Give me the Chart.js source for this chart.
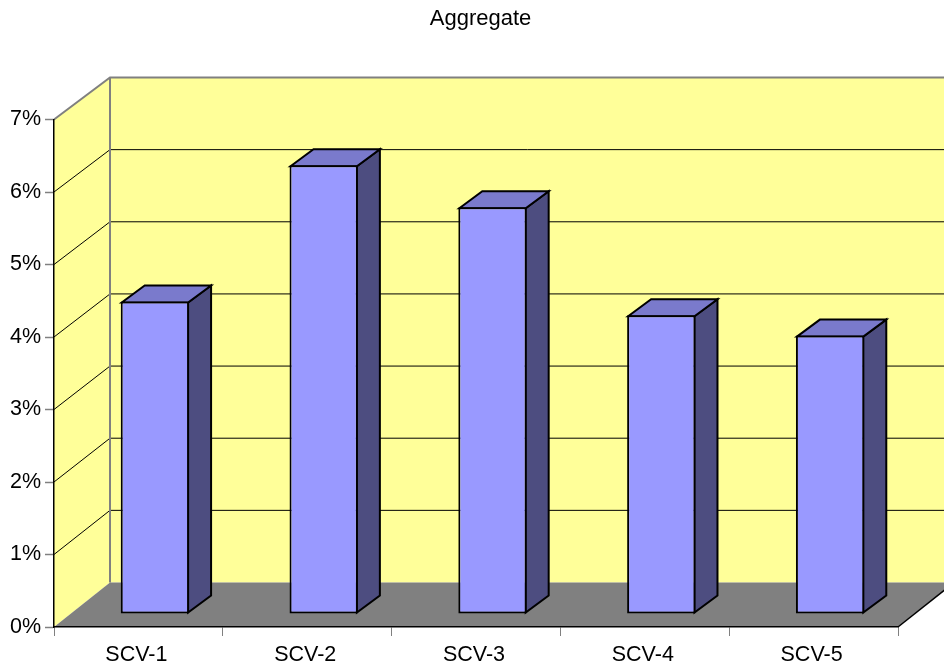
<!DOCTYPE html>
<html>
<head>
<meta charset="utf-8">
<style>
  html, body { margin: 0; padding: 0; background: #fff; }
  #wrap { width: 944px; height: 669px; overflow: hidden; }
</style>
<script src="https://cdn.jsdelivr.net/npm/chart.js@4"></script>
</head>
<body>
<div id="wrap"><canvas id="aggregate" width="944" height="669"></canvas></div>
<script>
const categories = ['SCV-1', 'SCV-2', 'SCV-3', 'SCV-4', 'SCV-5'];
const shares = [4.31, 6.19, 5.61, 4.12, 3.84];
const yTicks = [0, 1, 2, 3, 4, 5, 6, 7];

// 3D box offsets, in px; the back wall is slightly shorter than the front edge
const wallDepth = { x: 56, yFloor: -44.5, yTop: -42 };
const barDepth = { x: 23, y: -17 };
const barShift = { x: 16.5, y: -13 };

const colors = {
  wall: '#FFFF99', floor: '#808080', edge: '#808080', line: '#000000',
  front: '#9999FF', top: '#7A7ACC', side: '#4D4D80'
};

function poly(ctx, pts, fill, stroke, lineWidth) {
  ctx.beginPath();
  pts.forEach((p, i) => (i ? ctx.lineTo(p[0], p[1]) : ctx.moveTo(p[0], p[1])));
  if (fill) {
    ctx.closePath();
    ctx.fillStyle = fill;
    ctx.fill();
  }
  if (stroke) {
    ctx.strokeStyle = stroke;
    ctx.lineWidth = lineWidth;
    ctx.stroke();
  }
}

// walls, floor and the gridlines that fold around the corner
const roomPlugin = {
  id: 'room',
  beforeDraw(chart) {
    const { ctx, chartArea: a, scales: { y } } = chart;
    const dx = wallDepth.x;
    const y0 = y.getPixelForValue(0), yMax = y.getPixelForValue(7);
    const backY = py => py + wallDepth.yFloor + (y0 - py) / (y0 - yMax) * (wallDepth.yTop - wallDepth.yFloor);
    const w = chart.width + 20;
    const backLeft = a.left + dx;

    ctx.save();
    poly(ctx, [[a.left, y0], [backLeft, backY(y0)], [w, backY(y0)], [w, backY(yMax)], [backLeft, backY(yMax)], [a.left, yMax]], colors.wall);
    poly(ctx, [[a.left, y0], [a.right, y0], [a.right + dx, backY(y0)], [backLeft, backY(y0)]], colors.floor);

    yTicks.slice(1, -1).forEach(v => {
      const py = y.getPixelForValue(v);
      poly(ctx, [[a.left, py], [backLeft, backY(py)], [w, backY(py)]], null, colors.line, 1);
    });

    poly(ctx, [[backLeft, backY(y0)], [backLeft, backY(yMax)]], null, colors.edge, 2);
    poly(ctx, [[a.left, yMax], [backLeft, backY(yMax)], [w, backY(yMax)]], null, colors.edge, 2);
    poly(ctx, [[a.right, y0], [a.right + dx, backY(y0)]], null, colors.line, 1.5);
    ctx.restore();
  },
  // bars stand a little way back on the floor, with their top and side faces behind them
  beforeDatasetDraw(chart, args) {
    const { ctx } = chart;
    const dx = barDepth.x, dy = barDepth.y;
    ctx.save();
    ctx.translate(barShift.x, barShift.y);
    args.meta.data.forEach(bar => {
      const l = bar.x - bar.width / 2 + 1, r = bar.x + bar.width / 2 - 1;
      const t = bar.y + 1, b = bar.base - 1;
      poly(ctx, [[r, t], [r + dx, t + dy], [r + dx, b + dy], [r, b]], colors.side, colors.line, 2);
      poly(ctx, [[l, t], [l + dx, t + dy], [r + dx, t + dy], [r, t]], colors.top, colors.line, 2);
    });
  },
  afterDatasetDraw(chart) {
    chart.ctx.restore();
  },
  // title is centred a little right of the canvas middle
  afterLayout(chart) {
    chart.titleBlock.left = 17;
    chart.titleBlock.right = chart.width;
  }
};

new Chart(document.getElementById('aggregate'), {
  type: 'bar',
  data: {
    labels: categories,
    datasets: [{
      data: shares,
      backgroundColor: colors.front,
      borderColor: colors.line,
      borderWidth: 2,
      borderSkipped: false,
      barPercentage: 0.405,
      categoryPercentage: 1,
      clip: false
    }]
  },
  options: {
    responsive: false,
    animation: false,
    layout: { padding: { left: 0, right: 46, top: 0, bottom: 0 } },
    plugins: {
      legend: { display: false },
      tooltip: { enabled: false },
      title: {
        display: true,
        text: 'Aggregate',
        color: '#000',
        font: { family: 'Liberation Sans', size: 22, weight: 'normal', lineHeight: 1.2 },
        padding: { top: 5.5, bottom: 87.6 }
      }
    },
    scales: {
      x: {
        afterFit: s => { s.height = 42; },
        grid: { drawOnChartArea: false, tickLength: 9, tickColor: '#808080', tickWidth: 1 },
        border: { color: '#000', width: 1.5 },
        ticks: {
          color: '#000',
          padding: 6,
          labelOffset: -2,
          maxRotation: 0,
          font: { family: 'Liberation Sans', size: 21.5 }
        }
      },
      y: {
        min: 0,
        max: 7,
        afterFit: s => { s.width = 54; },
        afterBuildTicks: s => { s.ticks = yTicks.map(v => ({ value: v })); },
        grid: { drawOnChartArea: false, tickLength: 9, tickColor: '#808080', tickWidth: 1.5 },
        border: { color: '#000', width: 1.5 },
        ticks: {
          color: '#000',
          padding: 4,
          callback: v => v + '%',
          font: { family: 'Liberation Sans', size: 21.5 }
        }
      }
    }
  },
  plugins: [roomPlugin]
});
</script>
</body>
</html>
